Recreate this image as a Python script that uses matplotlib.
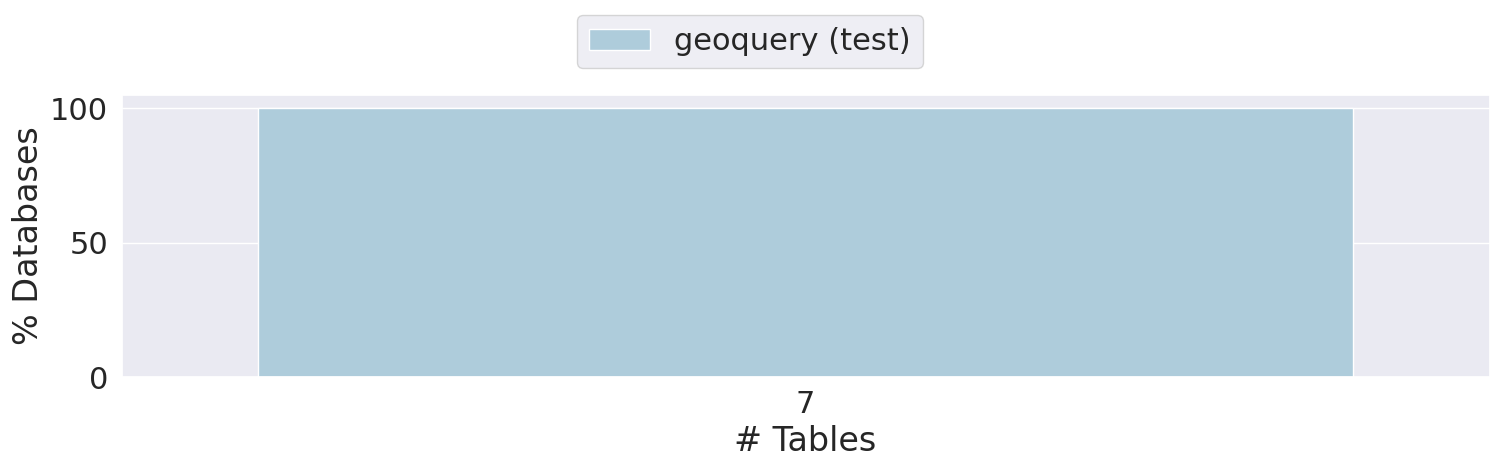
import matplotlib
matplotlib.use("Agg")
import matplotlib.pyplot as plt
import seaborn as sns
import pandas as pd

# Data
num_tables = ["7"]
pct_databases = [100.0]
dataset = ["geoquery (test)"]

sns.set_theme(style="darkgrid", font_scale=2.0)

df = pd.DataFrame({"# Tables": num_tables, "% Databases": pct_databases, "dataset": dataset})

fig, ax = plt.subplots(figsize=(15, 4.68), dpi=100)
sns.barplot(data=df, x="# Tables", y="% Databases", hue="dataset",
            palette="Paired", ax=ax)
ax.set_yticks([0, 50, 100])
# legend is centred on the figure, not the axes
ax.legend(loc="upper center", bbox_to_anchor=(0.5, 0.968),
          bbox_transform=fig.transFigure, borderaxespad=0, ncol=1, title=None)
fig.subplots_adjust(left=0.081, right=0.993, top=0.797, bottom=0.194)
fig.savefig("out.png", dpi=100)
